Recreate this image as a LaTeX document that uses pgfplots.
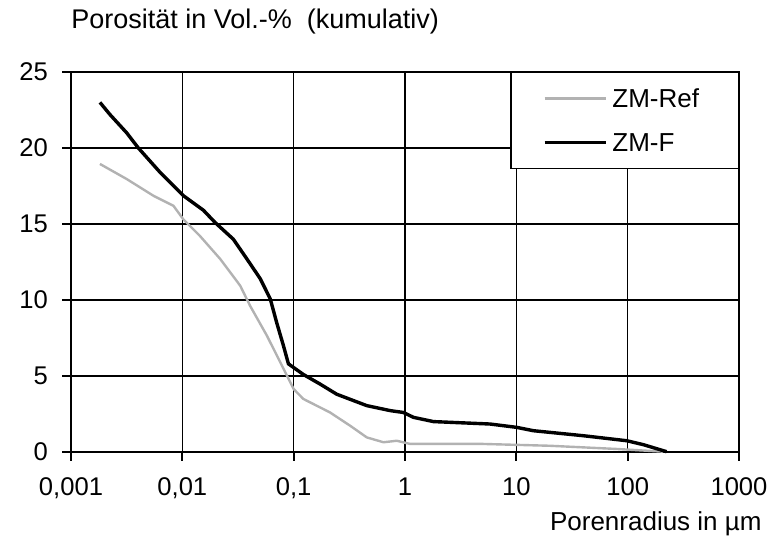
\documentclass[border=0pt]{standalone}
\usepackage{fontspec}
\setmainfont{Liberation Sans}
\usepackage{pgfplots}
\pgfplotsset{compat=1.18}

% cumulative porosity (Vol.-%) vs. pore radius (micrometres)
\pgfplotstableread{
x        y
0.00182  18.95
0.00316  17.96
0.005495 16.86
0.008318 16.2
0.01023  15.3
0.01445  14.2
0.02188  12.7
0.03311  10.94
0.04074  9.6
0.05754  7.65
0.08128  5.46
0.1      4.14
0.1222   3.49
0.2123   2.6
0.3214   1.73
0.4539   0.96
0.6412   0.64
0.8433   0.74
1.112    0.53
5.012    0.53
19.95    0.41
79.43    0.2
208.9    0.02
}\zmref

\pgfplotstableread{
x        y
0.00182  23.0
0.002239 22.2
0.003162 21.0
0.004027 20.0
0.00631  18.4
0.01023  16.86
0.01549  15.9
0.01968  15.1
0.02871  14.0
0.03802  12.7
0.05012  11.4
0.06166  10.07
0.07047  8.5
0.08091  7.0
0.08974  5.8
0.1222   5.1
0.1726   4.47
0.2438   3.8
0.4539   3.05
0.74     2.72
0.9683   2.6
1.191    2.28
1.803    2.0
5.821    1.84
10.09    1.62
14.26    1.40
40.09    1.07
98.4     0.74
138.7    0.48
223.9    0.02
}\zmf

\newcommand\lblfont{\fontsize{13}{15}\selectfont}

\begin{document}
\begin{tikzpicture}
\path[use as bounding box] (-35.5pt,-44pt) rectangle (353pt,226pt);
\begin{axis}[
  at={(0,0)}, anchor=south west,
  scale only axis, width=334pt, height=190pt,
  xmode=log, xmin=0.001, xmax=1000, ymin=0, ymax=25,
  xtick={0.001,0.01,0.1,1,10,100,1000},
  xticklabels={{0,001},{0,01},{0,1},1,10,100,1000},
  ytick={0,5,10,15,20,25},
  xminorticks=false,
  grid=major,
  major grid style={black, line width=0.55pt},
  axis line style={black, line width=1.2pt},
  tick align=outside, major tick length=4.5pt,
  tick style={black, line width=0.9pt},
  xtick pos=bottom, ytick pos=left,
  ticklabel style={font=\fontsize{12.8}{14}\selectfont},
  xticklabel style={yshift=-5pt},
  yticklabel style={xshift=-3.5pt},
  /pgf/number format/assume math mode=true,
  clip=false,
  legend style={at={(1,1)}, anchor=north east, draw=black, line width=0.6pt,
    fill=white, font=\lblfont,
    inner xsep=16pt, inner ysep=8.5pt, row sep=13pt,
    nodes={inner sep=0pt, text height=9pt, text depth=0pt},
    /tikz/every even column/.append style={text width=47pt},
    /tikz/every odd column/.append style={column sep=2.5pt}},
  legend cell align=left,
  legend image code/.code={\draw[#1] (0pt,0pt) -- (30.5pt,0pt);},
]
\addplot[gray!60, line width=1.2pt] table[x=x, y=y] {\zmref};
\addlegendentry{ZM-Ref}
\addplot[black, line width=1.7pt] table[x=x, y=y] {\zmf};
\addlegendentry{ZM-F}

\node[anchor=west, font=\fontsize{13.5}{15}\selectfont, inner sep=0pt]
  at (rel axis cs:0,1) [yshift=25pt]
  {Porosität in Vol.-\%\ \ (kumulativ)};
\node[anchor=east, font=\lblfont, inner sep=0pt]
  at (rel axis cs:1,0) [xshift=11.5pt, yshift=-36pt]
  {Porenradius in µm};
\end{axis}
\end{tikzpicture}
\end{document}
